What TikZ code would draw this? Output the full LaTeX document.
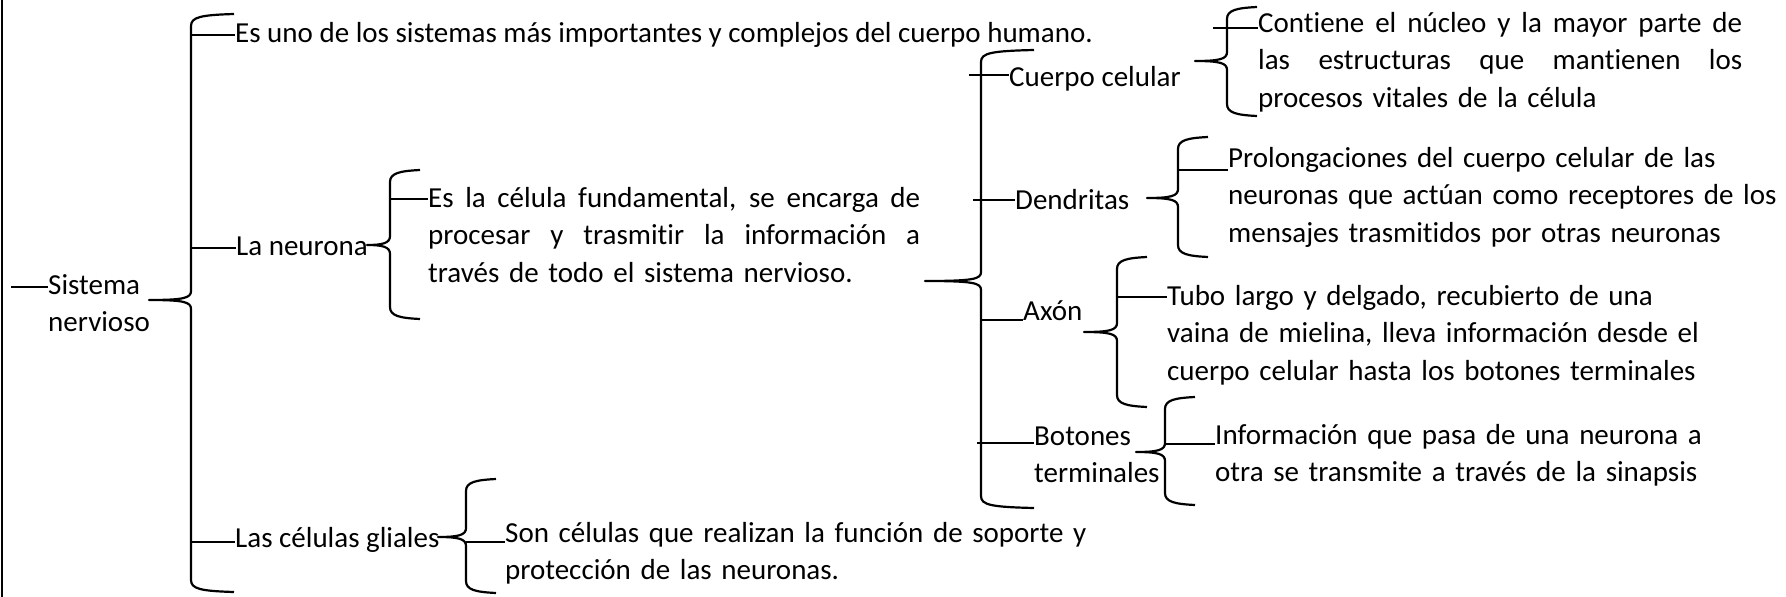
\documentclass[tikz,border=0pt]{standalone}
\usepackage{fontspec}
\setmainfont{Carlito}[Ligatures={NoCommon}]
\usepackage{tikz}
\definecolor{ink}{HTML}{000000}
\tikzset{
  ln/.style={draw=ink, line width=2.2pt},
  brc/.style={draw=ink, line width=2.2pt, line join=round},
  txt/.style={text=ink, font=\fontsize{29}{37.5}\selectfont, inner sep=0pt, anchor=base west, align=left},
  blk/.style={txt, text width=#1}
}
% brace: x of stem, top y, bottom y, tip x, tip y, end x of hooks
\newcommand{\nbrace}[6]{%
  \draw[brc] (#6,#2) .. controls ({#1+10},{#2+1}) and (#1,{#2+3}) .. (#1,{#2+12})
    -- (#1,{#5-9}) .. controls (#1,{#5-2}) and ({#1-7},#5) .. (#4,#5)
    .. controls ({#1-7},#5) and (#1,{#5+2}) .. (#1,{#5+9})
    -- (#1,{#3-12}) .. controls (#1,{#3-3}) and ({#1+10},{#3-1}) .. (#6,#3);}
% one justified line of a given width
\newcommand{\jline}[2]{\leavevmode\hbox to #1{\spaceskip=\fontdimen2\font plus 1fil\relax #2}}

\begin{document}
\begin{tikzpicture}[x=1pt,y=-1pt]
  \useasboundingbox (0,0) rectangle (1786,597);
  \draw[ln] (2,0) -- (2,597);

  % first level
  \node[blk=120pt] (sn) at (48,294) {Sistema\\nervioso};
  \node[txt] (gen) at (235,42) {Es uno de los sistemas más importantes y complejos del cuerpo humano.};
  \node[txt] (neu) at (236,255) {La neurona};
  \node[txt] (gli) at (235,547) {Las células gliales};

  \coordinate (ssn) at (11,287);
  \coordinate (sgen) at (191,35);
  \coordinate (sneu) at (191,248);
  \coordinate (sgli) at (191,542);
  \nbrace{191}{14}{592}{149}{300}{234}
  \draw[ln] (ssn) -- (ssn -| sn.west);
  \draw[ln] (sgen) -- (sgen -| gen.west);
  \draw[ln] (sneu) -- (sneu -| neu.west);
  \draw[ln] (sgli) -- (sgli -| gli.west);

  % la neurona
  \node[blk=492pt] (dneu) at (428,207) {%
    \jline{492pt}{Es la célula fundamental, se encarga de}\\
    \jline{492pt}{procesar y trasmitir la información a}\\
    través de todo el sistema nervioso.};
  \coordinate (s1) at (390,199);
  \nbrace{390}{170}{319}{367}{245}{420}
  \draw[ln] (s1) -- (s1 -| dneu.west);

  % celulas gliales
  \node[blk=620pt, inner xsep=10pt] (dgli) at (495,542) {Son células que realizan la función de soporte y\\protección de las neuronas.};
  \coordinate (s2) at (466,542);
  \nbrace{466}{479}{593}{438}{537}{496}
  \draw[ln] (s2) -- ([xshift=10pt]s2 -| dgli.west);

  % partes de la neurona
  \node[txt] (cc) at (1009,86) {Cuerpo celular};
  \node[txt] (den) at (1015,209) {Dendritas};
  \node[txt] (axo) at (1023,320) {Axón};
  \node[blk=150pt, inner xsep=15pt] (bot) at (1019,445) {Botones\\terminales};
  \coordinate (scc) at (969,75);
  \coordinate (sden) at (973,200);
  \coordinate (saxo) at (981,320);
  \coordinate (sbot) at (977,443);
  \nbrace{981}{50}{508}{925}{281}{1034}
  \draw[ln] (scc) -- (scc -| cc.west);
  \draw[ln] (sden) -- (sden -| den.west);
  \draw[ln] (saxo) -- (saxo -| axo.west);
  \draw[ln] (sbot) -- ([xshift=15pt]sbot -| bot.west);

  % cuerpo celular
  \node[blk=484pt] (dcc) at (1258,32) {%
    \jline{484pt}{Contiene el núcleo y la mayor parte de}\\
    \jline{484pt}{las estructuras que mantienen los}\\
    procesos vitales de la célula};
  \coordinate (s4) at (1213,28);
  \nbrace{1227}{7}{116}{1195}{61}{1257}
  \draw[ln] (s4) -- (s4 -| dcc.west);

  % dendritas
  \node[blk=560pt, inner xsep=8pt] (dden) at (1220,167) {Prolongaciones del cuerpo celular de las\\neuronas que actúan como receptores de los\\mensajes trasmitidos por otras neuronas};
  \coordinate (s5) at (1178,170);
  \nbrace{1178}{137}{257}{1147}{198}{1208}
  \draw[ln] (s5) -- ([xshift=8pt]s5 -| dden.west);

  % axon
  \node[blk=560pt, inner xsep=12pt] (daxo) at (1155,305) {Tubo largo y delgado, recubierto de una\\vaina de mielina, lleva información desde el\\cuerpo celular hasta los botones terminales};
  \coordinate (s6) at (1117,297);
  \nbrace{1117}{257}{407}{1084}{332}{1147}
  \draw[ln] (s6) -- ([xshift=12pt]s6 -| daxo.west);

  % botones terminales
  \node[blk=540pt, inner xsep=8pt] (dbot) at (1207,444) {Información que pasa de una neurona a\\otra se transmite a través de la sinapsis};
  \coordinate (s7) at (1165,444);
  \nbrace{1165}{397}{505}{1136}{452}{1195}
  \draw[ln] (s7) -- ([xshift=8pt]s7 -| dbot.west);
\end{tikzpicture}
\end{document}
